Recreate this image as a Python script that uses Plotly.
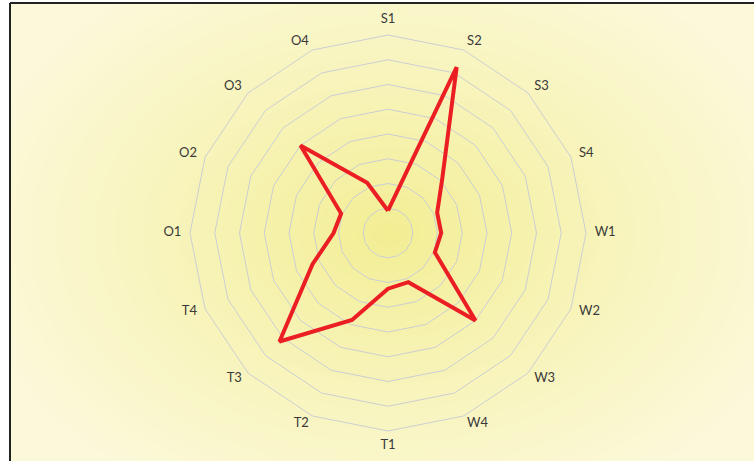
import base64
import struct
import zlib

import numpy as np
import plotly.graph_objects as go

# ---- data ----
categories = ["S1", "S2", "S3", "S4", "W1", "W2", "W3", "W4",
              "T1", "T2", "T3", "T4", "O1", "O2", "O3", "O4"]
values = [0.9, 7.25, 3.1, 2.15, 2.15, 2.05, 5.0, 2.15,
          2.25, 3.8, 6.2, 3.3, 2.2, 2.05, 5.0, 2.2]
radial_ticks = [1, 2, 3, 4, 5, 6, 7, 8]
radial_max = 8.75

# label placement style (anchor of each category label around the outer ring)
label_r = 8.35
label_pos = ["top center", "middle right", "middle right", "middle right",
             "middle right", "middle right", "middle right", "middle right",
             "bottom center", "middle left", "middle left", "middle left",
             "middle left", "middle left", "middle left", "middle left"]

W, H = 754, 461
CX, CY, R8 = 388, 233, 198          # pixel radius of the value-8 ring
RD = R8 * radial_max / 8.0          # pixel radius of the polar domain


# ---- background radial gradient (style only) ----
def png_uri(arr):
    h, w, _ = arr.shape
    raw = b"".join(b"\x00" + arr[y].tobytes() for y in range(h))

    def chunk(t, d):
        return (struct.pack(">I", len(d)) + t + d +
                struct.pack(">I", zlib.crc32(t + d) & 0xFFFFFFFF))

    png = (b"\x89PNG\r\n\x1a\n" +
           chunk(b"IHDR", struct.pack(">IIBBBBB", w, h, 8, 2, 0, 0, 0)) +
           chunk(b"IDAT", zlib.compress(raw, 9)) +
           chunk(b"IEND", b""))
    return "data:image/png;base64," + base64.b64encode(png).decode()


gx0, gy0 = 11, 4
gw, gh = W - gx0, H - gy0
yy, xx = np.mgrid[0:gh, 0:gw]
xx = xx + gx0
yy = yy + gy0
d = np.sqrt(((xx - CX) / 420.0) ** 2 + ((yy - CY) / 300.0) ** 2)
t = np.clip(d, 0, 1) ** 0.85
c_in = np.array([243, 238, 146], dtype=float)
c_out = np.array([252, 249, 218], dtype=float)
img = (c_in[None, None, :] * (1 - t[..., None]) + c_out[None, None, :] * t[..., None])
img = np.clip(img, 0, 255).astype(np.uint8)
bg_uri = png_uri(img)

fig = go.Figure()
fig.add_trace(go.Scatterpolar(
    r=values + values[:1],
    theta=categories + categories[:1],
    mode="lines",
    line=dict(color="rgb(235,30,36)", width=4),
    hoverinfo="skip",
    showlegend=False,
))
fig.add_trace(go.Scatterpolar(
    r=[label_r] * len(categories),
    theta=categories,
    mode="text",
    text=categories,
    textposition=label_pos,
    textfont=dict(family="Lato, Open Sans, sans-serif", size=13, color="#3a3a3a"),
    hoverinfo="skip",
    showlegend=False,
    cliponaxis=False,
))

fig.update_layout(
    width=W, height=H,
    margin=dict(l=0, r=0, t=0, b=0),
    paper_bgcolor="white",
    font=dict(family="Lato, Open Sans, sans-serif", size=12, color="#404040"),
    polar=dict(
        domain=dict(x=[(CX - RD) / W, (CX + RD) / W],
                    y=[(H - CY - RD) / H, (H - CY + RD) / H]),
        bgcolor="rgba(0,0,0,0)",
        gridshape="linear",
        radialaxis=dict(range=[0, radial_max], tickvals=radial_ticks,
                        showticklabels=False, ticks="", showline=False,
                        gridcolor="rgb(203,206,211)", gridwidth=1.3),
        angularaxis=dict(rotation=90, direction="clockwise",
                         categoryarray=categories, categoryorder="array",
                         showgrid=False, ticks="", showticklabels=False,
                         showline=False),
    ),
    images=[dict(source=bg_uri, xref="paper", yref="paper",
                 x=gx0 / W, y=1 - gy0 / H, sizex=gw / W, sizey=gh / H,
                 xanchor="left", yanchor="top", sizing="stretch",
                 layer="below")],
    shapes=[
        dict(type="line", xref="paper", yref="paper",
             x0=10 / W, x1=1.0, y0=1 - 3 / H, y1=1 - 3 / H,
             line=dict(color="#222222", width=2)),
        dict(type="line", xref="paper", yref="paper",
             x0=10 / W, x1=10 / W, y0=0, y1=1 - 3 / H,
             line=dict(color="#222222", width=2)),
    ],
)

fig.write_html("out.html",
               config={"displayModeBar": False},
               post_script="document.body.style.margin='0';")
